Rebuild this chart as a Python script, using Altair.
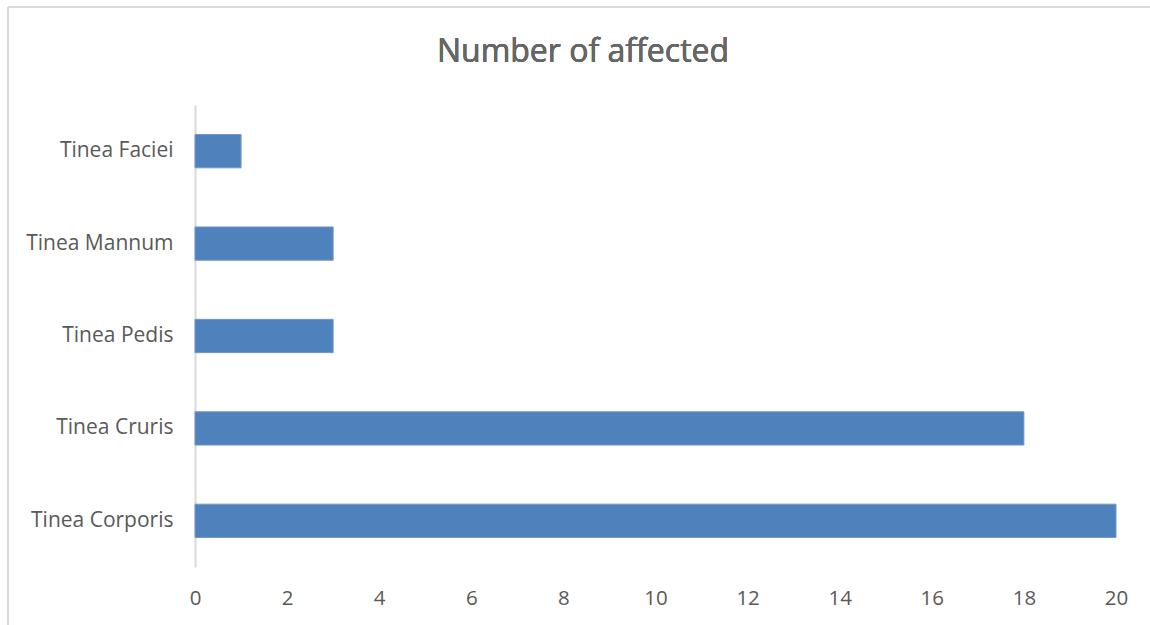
import altair as alt
import pandas as pd

categories = ["Tinea Faciei", "Tinea Mannum", "Tinea Pedis", "Tinea Cruris", "Tinea Corporis"]
values = [1, 3, 3, 18, 20]
x_ticks = [0, 2, 4, 6, 8, 10, 12, 14, 16, 18, 20]
title_text = "Number of affected"

df = pd.DataFrame({"category": categories, "value": values})

FONT = "Open Sans"
TXT = "#595959"

bars = alt.Chart(df).mark_bar(color="#4F81BD", stroke="#6F97CC", strokeWidth=1).encode(
    x=alt.X("value:Q",
            scale=alt.Scale(domain=[0, 20], nice=False),
            axis=alt.Axis(values=x_ticks, title=None, grid=False, ticks=False, domain=False,
                          labelFlush=False,
                          labelFont=FONT, labelFontSize=20.5, labelColor=TXT, labelPadding=21)),
    y=alt.Y("category:N", sort=categories,
            scale=alt.Scale(paddingInner=0.64, paddingOuter=0.32),
            axis=alt.Axis(title=None, ticks=False, domain=True, domainColor="#D9D9D9", domainWidth=2,
                          labelFont=FONT, labelFontSize=21, labelColor=TXT, labelPadding=22)),
)

frame_top = alt.Chart(df).mark_rule(color="#D9D9D9", strokeWidth=2).encode(
    x=alt.value(-187), x2=alt.value(1000), y=alt.value(-98)
)
frame_left = alt.Chart(df).mark_rule(color="#D9D9D9", strokeWidth=2).encode(
    x=alt.value(-187), y=alt.value(-98), y2=alt.value(600)
)
title_mark = alt.Chart(df).mark_text(font=FONT, fontSize=32, color="#666666", align="center",
                                     baseline="alphabetic").encode(
    x=alt.value(388), y=alt.value(-43), text=alt.value(title_text)
)

chart = alt.layer(bars, frame_top, frame_left, title_mark).properties(
    width=921,
    height=462,
    background="white",
    autosize=alt.AutoSizeParams(type="none"),
    padding={"left": 195, "top": 105, "right": 34, "bottom": 58},
).configure_view(stroke=None, strokeWidth=0)

chart.save("out.html", embed_options={"renderer": "svg", "actions": False})
